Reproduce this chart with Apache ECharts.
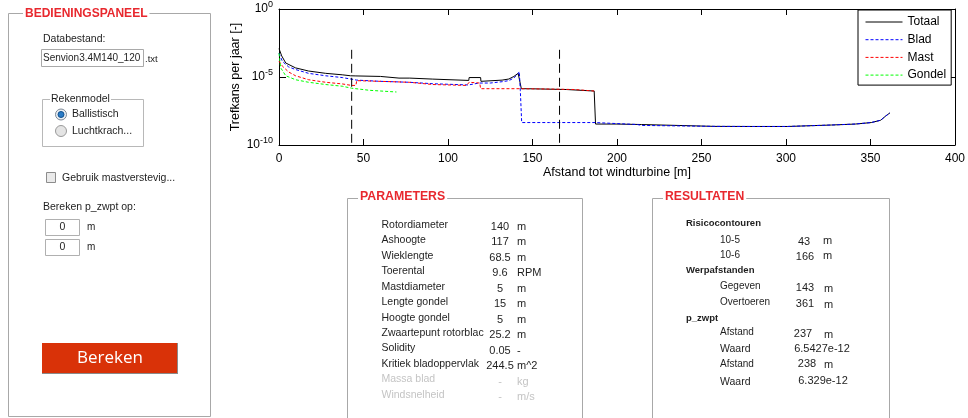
<!DOCTYPE html>
<html>
<head>
<meta charset="utf-8">
<script src="https://cdn.jsdelivr.net/npm/echarts@6/dist/echarts.min.js"></script>
<style>
html,body{margin:0;padding:0;background:#fff;}
#c{width:968px;height:418px;}
</style>
</head>
<body>
<div id="c"></div>
<script>
// ---- data ----
const seriesNames = ['Totaal', 'Blad', 'Mast', 'Gondel'];

const totaalX = [0, 1.6, 4, 9.8, 17.5, 27.6, 37.4, 42.3, 45.5, 46, 60, 71, 77.4, 77.5, 91, 91.2, 112.3, 112.5, 119.3, 119.5, 132, 136, 139, 141.5, 142.2, 143.4, 150, 170, 186.5, 187.3, 200, 214.5, 214.6, 258, 280, 301, 327, 341, 350.5, 356, 359, 361.5];
const totaalY = [1.23e-3, 3.55e-4, 1.07e-4, 4.68e-5, 2.75e-5, 1.86e-5, 1.45e-5, 1.23e-5, 1.2e-5, 1.35e-5, 1.10e-5, 8.3e-6, 8.3e-6, 7.1e-6, 7.0e-6, 5.6e-6, 5.6e-6, 9.1e-6, 9.1e-6, 4.8e-6, 5.9e-6, 7.1e-6, 1.10e-5, 1.86e-5, 2.45e-5, 1.38e-6, 1.35e-6, 1.2e-6, 9.3e-7, 3.47e-9, 3.47e-9, 3.2e-9, 2.75e-9, 2.34e-9, 2.3e-9, 2.3e-9, 2.95e-9, 3.47e-9, 4.47e-9, 6.6e-9, 1.35e-8, 2.29e-8];

const bladX = [0, 2, 5.7, 9.8, 17.5, 27.6, 37.4, 43, 46, 60, 77, 91, 112, 113, 118.5, 119, 125, 132, 136, 139, 141.5, 142.2, 142.8, 143.6, 160, 187, 187.5, 212, 214.6, 258, 280, 301, 327, 341, 350.5, 356, 359, 361.5];
const bladY = [5.5e-4, 1.41e-4, 5.5e-5, 3.55e-5, 1.86e-5, 1.23e-5, 9.1e-6, 6.9e-6, 5.9e-6, 4.8e-6, 4.1e-6, 3.2e-6, 2.6e-6, 3.6e-6, 3.6e-6, 3.2e-6, 3.6e-6, 4.5e-6, 5.4e-6, 8.5e-6, 1.78e-5, 2.5e-5, 1.0e-6, 4.47e-9, 4.47e-9, 4.47e-9, 3.47e-9, 3.2e-9, 2.75e-9, 2.34e-9, 2.3e-9, 2.3e-9, 2.95e-9, 3.47e-9, 4.47e-9, 6.6e-9, 1.35e-8, 2.29e-8];

const mastX = [0, 2, 5.7, 9.8, 17.5, 27.6, 37.4, 43, 45.5, 46, 60, 77, 91, 111, 112.5, 118.8, 119.3, 143, 160, 175, 186.5];
const mastY = [1.48e-4, 6.3e-5, 2.34e-5, 1.23e-5, 6.3e-6, 4.1e-6, 3.1e-6, 2.4e-6, 2.4e-6, 5.4e-6, 4.8e-6, 4.1e-6, 2.8e-6, 2.4e-6, 4.1e-6, 3.6e-6, 1.38e-6, 1.38e-6, 1.3e-6, 1.2e-6, 9.3e-7];

const gondelX = [0, 1, 4, 9.8, 17.5, 27.6, 37.4, 43, 53.6, 69.5];
const gondelY = [5.5e-4, 4.7e-5, 1.23e-5, 6.3e-6, 4.1e-6, 2.8e-6, 2.1e-6, 1.5e-6, 1.05e-6, 7.9e-7];

// risk contours (vertical dashed lines): x position, top and bottom value
const contourX = [43, 166];
const contourTop = 1e-3;
const contourBottom = 1e-10;

const xTickStep = 50;
const yExpStep = 5;

const paramLabels = ['Rotordiameter', 'Ashoogte', 'Wieklengte', 'Toerental', 'Mastdiameter', 'Lengte gondel', 'Hoogte gondel', 'Zwaartepunt rotorblac', 'Solidity', 'Kritiek bladoppervlak', 'Massa blad', 'Windsnelheid'];
const paramValues = ['140', '117', '68.5', '9.6', '5', '15', '5', '25.2', '0.05', '244.5', '-', '-'];
const paramUnits  = ['m', 'm', 'm', 'RPM', 'm', 'm', 'm', 'm', '-', 'm^2', 'kg', 'm/s'];
const paramEnabled = [true, true, true, true, true, true, true, true, true, true, false, false];

// ---- chart ----
const chart = echarts.init(document.getElementById('c'), null, {renderer: 'canvas'});
const FF = 'Liberation Sans, Arial, sans-serif';
const RED = '#e8282e';

function pairs(xs, ys) { return xs.map((x, i) => [x, ys[i]]); }

const colors = {Totaal: '#000000', Blad: '#0000ff', Mast: '#ff0000', Gondel: '#00ff00'};
const dataMap = {
  Totaal: pairs(totaalX, totaalY),
  Blad: pairs(bladX, bladY),
  Mast: pairs(mastX, mastY),
  Gondel: pairs(gondelX, gondelY)
};

const series = seriesNames.map(n => ({
  name: n, type: 'line', data: dataMap[n], symbol: 'none', showSymbol: false,
  xAxisIndex: 0, yAxisIndex: 0,
  lineStyle: {color: colors[n], width: 1, type: n === 'Totaal' ? 'solid' : [3, 2]},
  itemStyle: {color: colors[n]},
  emphasis: {disabled: true}, animation: false
}));
contourX.forEach((cx, i) => {
  series.push({
    name: 'contour' + i, type: 'line', data: [[cx, contourTop], [cx, contourBottom]],
    symbol: 'none', lineStyle: {color: '#000', width: 1, type: [9, 5]},
    emphasis: {disabled: true}, animation: false, silent: true
  });
});

function yLabel(v) {
  const e = Math.round(Math.log10(v));
  return '{b|10}{s|' + e + '}';
}

// ---- GUI panels ----
const G = [];
function txt(x, y, text, o) {
  o = o || {};
  const st = {
    text: text, x: x, y: y,
    font: (o.weight || 'normal') + ' ' + (o.size || 10.5) + 'px ' + (o.family || FF),
    fill: o.color || '#1e1e1e',
    textAlign: o.align || 'left', textVerticalAlign: 'middle'
  };
  if (o.bg) { st.backgroundColor = o.bg; st.padding = o.pad || [0, 2]; }
  G.push({type: 'text', silent: true, z: o.z || 10, style: st});
}
function rect(x, y, w, h, stroke, fill, z) {
  G.push({type: 'rect', silent: true, z: z || 5, shape: {x: x, y: y, width: w, height: h},
    style: {stroke: stroke || 'none', fill: fill || 'none', lineWidth: 1}});
}
function circ(cx, cy, r, stroke, fill, z) {
  G.push({type: 'circle', silent: true, z: z || 6, shape: {cx: cx, cy: cy, r: r},
    style: {stroke: stroke || 'none', fill: fill || 'none', lineWidth: 1}});
}
function line(x1, y1, x2, y2, stroke, z) {
  G.push({type: 'line', silent: true, z: z || 6, shape: {x1: x1, y1: y1, x2: x2, y2: y2},
    style: {stroke: stroke, lineWidth: 1}});
}

// left panel
rect(8.5, 13.5, 202, 403, '#a8a8a8');
txt(23, 13.5, 'BEDIENINGSPANEEL', {weight: 'bold', size: 12, color: RED, bg: '#fff'});
txt(43, 39.5, 'Databestand:');
rect(41.5, 49.5, 102, 17, '#a9a9a9', '#fff');
txt(43, 58, 'Senvion3.4M140_120', {size: 10});
txt(145, 59, '.txt', {size: 9.5});
rect(42.5, 99.5, 101, 47, '#b8b8b8');
txt(50, 99.5, 'Rekenmodel', {bg: '#fff', pad: [0, 1]});
circ(61, 114.5, 5.5, '#7f8a96', '#e9eef3');
circ(61, 114.5, 3, '#10508f', '#2a7cc7', 7);
txt(72, 114, 'Ballistisch');
circ(61, 131, 5.5, '#9a9a9a', '#e4e4e4');
txt(72, 131, 'Luchtkrach...');
rect(46.5, 172.5, 9, 10, '#8c8c8c', '#eaeaea');
txt(62, 178, 'Gebruik mastverstevig...');
txt(43, 207.5, 'Bereken p_zwpt op:');
rect(45.5, 219.5, 34, 16, '#b0b0b0', '#fff');
txt(62.5, 227.5, '0', {align: 'center'});
txt(87, 227.5, 'm', {size: 10});
rect(45.5, 239.5, 34, 16, '#b0b0b0', '#fff');
txt(62.5, 247.5, '0', {align: 'center'});
txt(87, 247.5, 'm', {size: 10});
rect(42, 343, 135, 30, null, '#d93208');
line(177.5, 343, 177.5, 374, '#8a8a8a');
line(42, 373.5, 178, 373.5, '#8a8a8a');
txt(110, 358, 'Bereken', {size: 17, color: '#fff', align: 'center', family: 'Open Sans, Noto Sans, sans-serif', z: 12});

// parameters panel
rect(347.5, 198.5, 235, 260, '#a8a8a8');
txt(358, 197, 'PARAMETERS', {weight: 'bold', size: 12.3, color: RED, bg: '#fff'});
paramLabels.forEach((lab, i) => {
  const y = 225 + i * 15.45;
  const c = paramEnabled[i] ? '#1e1e1e' : '#c4c4c4';
  txt(381.5, y, lab, {color: c, size: 10.5});
  txt(500, y + 2, paramValues[i], {color: c, size: 11, align: 'center'});
  txt(517, y + 2, paramUnits[i], {color: c, size: 11});
});

// results panel
rect(652.5, 198.5, 237, 260, '#a8a8a8');
txt(663, 197, 'RESULTATEN', {weight: 'bold', size: 12.2, color: RED, bg: '#fff'});
txt(686, 223.5, 'Risicocontouren', {weight: 'bold', size: 9.5});
txt(720, 240, '10-5', {size: 10});
txt(804, 242, '43', {size: 11, align: 'center'});
txt(823, 241, 'm', {size: 11});
txt(720, 255, '10-6', {size: 10});
txt(805, 257, '166', {size: 11, align: 'center'});
txt(823, 256, 'm', {size: 11});
txt(686, 270, 'Werpafstanden', {weight: 'bold', size: 9.5});
txt(720, 286, 'Gegeven', {size: 10});
txt(805, 288, '143', {size: 11, align: 'center'});
txt(824, 289, 'm', {size: 11});
txt(720, 302.5, 'Overtoeren', {size: 10});
txt(805, 304, '361', {size: 11, align: 'center'});
txt(824, 305, 'm', {size: 11});
txt(686, 318, 'p_zwpt', {weight: 'bold', size: 9.5});
txt(720, 332, 'Afstand', {size: 10});
txt(803, 334, '237', {size: 11, align: 'center'});
txt(824, 335, 'm', {size: 11});
txt(720, 349.5, 'Waard', {size: 10.5});
txt(822, 349, '6.5427e-12', {size: 11, align: 'center'});
txt(720, 364.5, 'Afstand', {size: 10});
txt(807, 364, '238', {size: 11, align: 'center'});
txt(824, 364.5, 'm', {size: 11});
txt(720, 382, 'Waard', {size: 10.5});
txt(823, 381, '6.329e-12', {size: 11, align: 'center'});

const axisCommonX = {
  type: 'value', min: 0, max: 400, interval: xTickStep,
  axisLine: {show: true, onZero: false, lineStyle: {color: '#000', width: 1}},
  axisTick: {show: true, inside: true, length: 6, lineStyle: {color: '#000'}},
  splitLine: {show: false}
};
const axisCommonY = {
  type: 'log', logBase: 10, min: 1e-10, max: 1, interval: yExpStep,
  axisLine: {show: true, onZero: false, lineStyle: {color: '#000', width: 1}},
  axisTick: {show: true, inside: true, length: 7, lineStyle: {color: '#000'}},
  splitLine: {show: false}, minorTick: {show: false}
};

chart.setOption({
  animation: false,
  backgroundColor: '#fff',
  textStyle: {fontFamily: FF},
  grid: {left: 279, top: 4, width: 678, height: 141, containLabel: false},
  legend: {
    data: seriesNames, orient: 'vertical', left: 858, top: 10,
    itemWidth: 37, itemHeight: 14, itemGap: 5.7,
    padding: [6, 5, 4, 7], borderColor: '#000', borderWidth: 1, backgroundColor: '#fff',
    borderRadius: 0, selectedMode: false,
    itemStyle: {opacity: 0},
    lineStyle: {width: 1},
    textStyle: {fontSize: 12, color: '#000', fontFamily: FF}
  },
  xAxis: [
    Object.assign({}, axisCommonX, {
      position: 'bottom',
      axisLabel: {color: '#000', fontSize: 12, margin: 8, fontFamily: FF},
      name: 'Afstand tot windturbine [m]', nameLocation: 'middle', nameGap: 21,
      nameMoveOverlap: false,
      nameTextStyle: {color: '#000', fontSize: 12.5, fontFamily: FF}
    }),
    Object.assign({}, axisCommonX, {position: 'top', axisLabel: {show: false}})
  ],
  yAxis: [
    Object.assign({}, axisCommonY, {
      position: 'left',
      axisLabel: {
        color: '#000', margin: 6, formatter: yLabel,
        rich: {
          b: {fontSize: 12, lineHeight: 12, color: '#000', fontFamily: FF},
          s: {fontSize: 9, lineHeight: 9, padding: [0, 0, 9, 0], color: '#000', fontFamily: FF}
        }
      },
      name: 'Trefkans per jaar [-]', nameLocation: 'middle', nameGap: 37,
      nameMoveOverlap: false,
      nameTextStyle: {color: '#000', fontSize: 12.5, fontFamily: FF}
    }),
    Object.assign({}, axisCommonY, {position: 'right', axisLabel: {show: false}})
  ],
  graphic: G,
  series: series
});
</script>
</body>
</html>
